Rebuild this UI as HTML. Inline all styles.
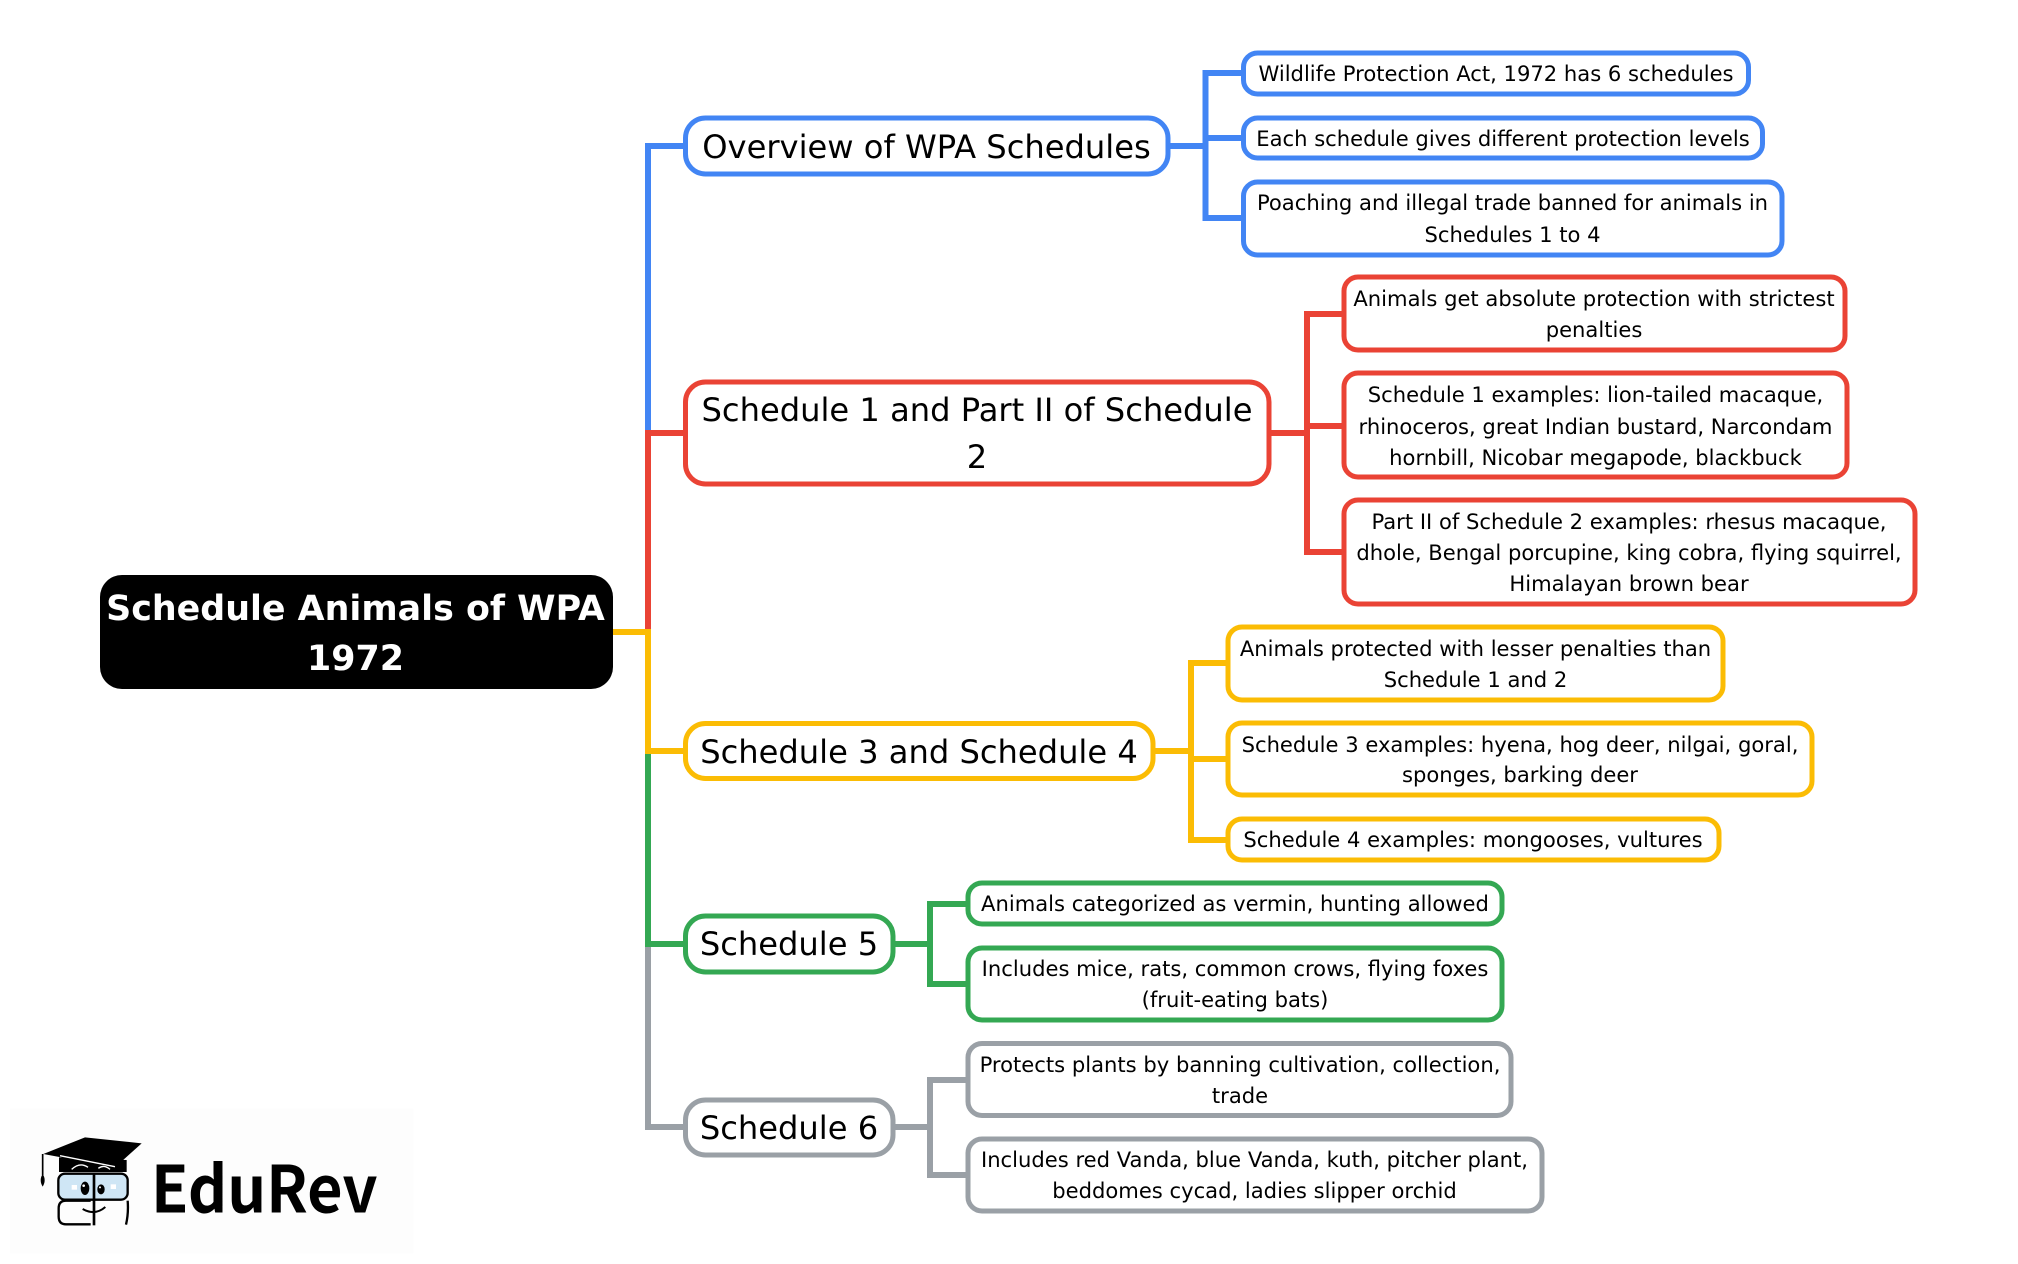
<!DOCTYPE html>
<html><head><meta charset="utf-8"><style>
html,body{margin:0;padding:0;background:#fff}
svg{display:block}
text{font-family:"DejaVu Sans",sans-serif;fill:#000;text-anchor:middle}
.l1{font-size:32.15px;transform:translateX(-1px)}.c{font-size:21.1px;transform:translateX(-1px)}
.r{font-size:34.85px;font-weight:700;fill:#fff;transform:translateX(-1px)}
.n{fill:#fff;stroke-width:5}
.k{fill:none;stroke-width:6}
.b{stroke:#4285F4}.d{stroke:#EA4335}.y{stroke:#FBBC04}.g{stroke:#34A853}.a{stroke:#9AA0A6}
</style></head><body>
<svg width="2018" height="1264" viewBox="0 0 2018 1264" xmlns="http://www.w3.org/2000/svg">
<rect width="2018" height="1264" fill="#fff"/>
<!-- main connectors -->
<path class="k a" d="M613 632H648V1127H685"/>
<path class="k g" d="M613 632H648V944H685"/>
<path class="k y" d="M613 632H648V751H685"/>
<path class="k b" d="M613 632H648V146H685"/>
<path class="k d" d="M613 632H648V433H685"/>
<path class="k y" d="M613 632H648V640"/>
<!-- sub connectors -->
<path class="k b" d="M1168 146H1205.500M1243 73H1205.500V218H1243M1205.500 138H1243"/>
<path class="k d" d="M1270 433H1307M1343 314H1307V552H1343M1307 426H1343"/>
<path class="k y" d="M1154 751H1191M1227 663H1191V840H1227M1191 759H1227"/>
<path class="k g" d="M894 944H930M967 904H930V984H967"/>
<path class="k a" d="M894 1127H930M968 1080H930V1175H968"/>
<!-- root -->
<rect x="100" y="575" width="513" height="114" rx="22" fill="#000"/>
<text class="r" x="356.500" y="620">Schedule Animals of WPA</text>
<text class="r" x="356.500" y="670">1972</text>
<!-- level 1 -->
<rect class="n b" x="685.500" y="118" width="482.500" height="56" rx="20"/>
<text class="l1" x="927.500" y="158">Overview of WPA Schedules</text>
<rect class="n d" x="685.500" y="382" width="583.500" height="102" rx="20"/>
<text class="l1" x="978" y="421">Schedule 1 and Part II of Schedule</text>
<text class="l1" x="978" y="468">2</text>
<rect class="n y" x="685.500" y="723.500" width="467.500" height="55" rx="20"/>
<text class="l1" x="920" y="763">Schedule 3 and Schedule 4</text>
<rect class="n g" x="685.500" y="916" width="207.500" height="56" rx="20"/>
<text class="l1" x="790" y="955">Schedule 5</text>
<rect class="n a" x="685.500" y="1100" width="207.500" height="55" rx="20"/>
<text class="l1" x="790" y="1139">Schedule 6</text>
<!-- blue children -->
<rect class="n b" x="1243.500" y="53" width="505" height="41" rx="14"/>
<text class="c" x="1497" y="81">Wildlife Protection Act, 1972 has 6 schedules</text>
<rect class="n b" x="1243.500" y="118" width="519" height="40" rx="14"/>
<text class="c" x="1504" y="146">Each schedule gives different protection levels</text>
<rect class="n b" x="1243.500" y="182" width="538.500" height="73" rx="14"/>
<text class="c" x="1513.500" y="210">Poaching and illegal trade banned for animals in</text>
<text class="c" x="1513.500" y="242">Schedules 1 to 4</text>
<!-- red children -->
<rect class="n d" x="1344" y="277" width="501" height="73" rx="14"/>
<text class="c" x="1595" y="306">Animals get absolute protection with strictest</text>
<text class="c" x="1595" y="337">penalties</text>
<rect class="n d" x="1344" y="373" width="503" height="104" rx="14"/>
<text class="c" x="1596.500" y="402">Schedule 1 examples: lion-tailed macaque,</text>
<text class="c" x="1596.500" y="434">rhinoceros, great Indian bustard, Narcondam</text>
<text class="c" x="1596.500" y="465">hornbill, Nicobar megapode, blackbuck</text>
<rect class="n d" x="1344" y="500" width="571" height="104" rx="14"/>
<text class="c" x="1630" y="529">Part II of Schedule 2 examples: rhesus macaque,</text>
<text class="c" x="1630" y="560">dhole, Bengal porcupine, king cobra, flying squirrel,</text>
<text class="c" x="1630" y="591">Himalayan brown bear</text>
<!-- yellow children -->
<rect class="n y" x="1228" y="627" width="495" height="73" rx="14"/>
<text class="c" x="1476.500" y="656">Animals protected with lesser penalties than</text>
<text class="c" x="1476.500" y="687">Schedule 1 and 2</text>
<rect class="n y" x="1228" y="723" width="584" height="72" rx="14"/>
<text class="c" x="1521" y="752">Schedule 3 examples: hyena, hog deer, nilgai, goral,</text>
<text class="c" x="1521" y="782">sponges, barking deer</text>
<rect class="n y" x="1228" y="819" width="491" height="41" rx="14"/>
<text class="c" x="1474" y="847">Schedule 4 examples: mongooses, vultures</text>
<!-- green children -->
<rect class="n g" x="968" y="883" width="534" height="41" rx="14"/>
<text class="c" x="1236" y="911">Animals categorized as vermin, hunting allowed</text>
<rect class="n g" x="968" y="948" width="534" height="72" rx="14"/>
<text class="c" x="1236" y="976">Includes mice, rats, common crows, flying foxes</text>
<text class="c" x="1236" y="1007">(fruit-eating bats)</text>
<!-- gray children -->
<rect class="n a" x="968" y="1043.500" width="543" height="72" rx="14"/>
<text class="c" x="1241" y="1072">Protects plants by banning cultivation, collection,</text>
<text class="c" x="1241" y="1103">trade</text>
<rect class="n a" x="968" y="1139" width="574" height="72" rx="14"/>
<text class="c" x="1255.500" y="1167">Includes red Vanda, blue Vanda, kuth, pitcher plant,</text>
<text class="c" x="1255.500" y="1198">beddomes cycad, ladies slipper orchid</text>
<!-- logo -->
<g transform="translate(0,1080) scale(.33333)">
<rect x="30" y="85" width="1210" height="435" fill="#fdfdfd"/>
<path d="M177 232L380 240V276H177Z" fill="#000"/>
<rect x="175" y="281" width="208" height="78" rx="20" fill="#cfe6f5" stroke="#000" stroke-width="7"/>
<path d="M272 362H198Q176 362 176 385V410Q176 433 198 433H272M383 362Q386 400 378 434" fill="none" stroke="#000" stroke-width="7"/>
<path d="M130 222L255 172L425 190L345 262Z" fill="#000"/>
<path d="M180 227L345 260" stroke="#fff" stroke-width="4" fill="none"/>
<path d="M215 268Q240 245 264 262M295 265Q312 252 330 268" stroke="#fff" stroke-width="4" fill="none"/>
<path d="M128 222V285" stroke="#000" stroke-width="5"/>
<path d="M128 282Q140 300 128 320Q116 300 128 282Z" fill="#000"/>
<path d="M282 281V436" stroke="#000" stroke-width="8"/>
<ellipse cx="255" cy="325" rx="13" ry="20" fill="#000"/>
<ellipse cx="303" cy="328" rx="11" ry="15" fill="#000"/>
<circle cx="251" cy="317" r="4" fill="#fff"/><circle cx="300" cy="322" r="3" fill="#fff"/>
<rect x="215" y="315" width="16" height="14" fill="#fff"/><rect x="332" y="313" width="16" height="14" fill="#fff"/>
<path d="M248 387Q285 408 316 381" fill="none" stroke="#000" stroke-width="6"/>
<text x="453" y="397" font-size="194" font-weight="700" textLength="680" lengthAdjust="spacingAndGlyphs" style='font-family:"Noto Sans CJK JP","Liberation Sans",sans-serif;text-anchor:start'>EduRev</text>
</g>
</svg>
</body></html>
